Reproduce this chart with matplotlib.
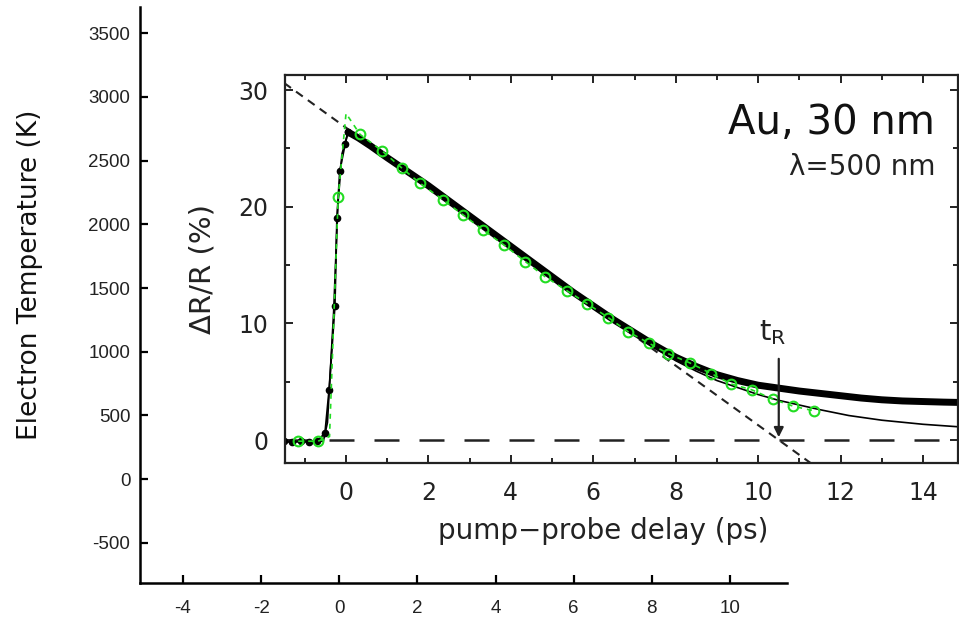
import matplotlib
matplotlib.use('Agg')
import matplotlib.pyplot as plt
from matplotlib.ticker import MultipleLocator

# outer axis: electron temperature scale
temp_ticks = [-500, 0, 500, 1000, 1500, 2000, 2500, 3000, 3500]
time_ticks = [-4, -2, 0, 2, 4, 6, 8, 10]

# measured dR/R (thick black band of points)
meas_t = [-1.5, -1.3, -1.1, -0.9, -0.7, -0.51, -0.41, -0.27, -0.22, -0.15, -0.02, 0.05,
          0.3, 0.6, 1.0, 1.5, 2.0, 2.5, 3.0, 3.5, 4.0, 4.5, 5.0, 5.5, 6.0, 6.5, 7.0,
          7.5, 8.0, 8.5, 9.0, 9.5, 10.0, 10.5, 11.0, 11.5, 12.0, 12.5, 13.0, 13.5,
          14.0, 14.5, 15.2]
meas_r = [-0.1, -0.2, -0.1, -0.2, -0.1, 0.6, 4.3, 11.5, 19.0, 23.1, 25.4, 26.4,
          25.9, 25.2, 24.2, 23.0, 21.8, 20.5, 19.2, 17.9, 16.6, 15.3, 14.0, 12.7,
          11.5, 10.3, 9.2, 8.1, 7.1, 6.3, 5.6, 5.1, 4.7, 4.45, 4.2, 4.0, 3.8, 3.6,
          3.45, 3.35, 3.3, 3.25, 3.2]
peak = 11  # index of the peak, decay part is drawn as a dense band

# thin solid fit
fit_t = [-1.5, -0.55, -0.45, -0.3, -0.2, -0.1, 0.05, 2.0, 4.0, 6.0, 7.0, 8.0, 8.5,
         9.0, 9.5, 10.0, 10.5, 11.0, 11.5, 12.2, 13.0, 14.0, 15.2]
fit_r = [-0.15, -0.1, 1.5, 11.0, 20.0, 24.5, 26.4, 21.8, 16.6, 11.5, 9.0, 6.8, 5.9,
         5.1, 4.5, 3.9, 3.4, 3.0, 2.6, 2.1, 1.7, 1.35, 1.05]

# green model points
green_t = [-1.16, -0.68, -0.4, -0.19, 0.0, 0.34, 0.87, 1.36, 1.8, 2.35, 2.84, 3.33,
           3.84, 4.35, 4.83, 5.36, 5.85, 6.36, 6.84, 7.35, 7.82, 8.35, 8.86, 9.35,
           9.85, 10.36, 10.85, 11.36]
green_r = [-0.1, -0.1, 0.3, 20.8, 28.0, 26.2, 24.8, 23.3, 22.0, 20.6, 19.3, 18.0,
           16.7, 15.3, 14.0, 12.8, 11.7, 10.5, 9.3, 8.3, 7.4, 6.6, 5.7, 4.8, 4.3,
           3.5, 2.9, 2.5]
green_marks = [0, 1, 3] + list(range(5, 28))

# linear extrapolation and baseline
extrap_t = [-1.5, 11.3]
extrap_r = [30.6, -2.04]
base_t = [-1.5, 15.2]
base_r = [0, 0]
t_R = 10.5

fig = plt.figure(figsize=(9.59, 6.22), dpi=100)

ax = fig.add_axes([0.146, 0.0627, 0.675, 0.926])
ax.set_xlim(-5.1, 11.47)
ax.set_ylim(-814, 3704)
ax.set_xticks(time_ticks)
ax.set_yticks(temp_ticks)
ax.set_xticklabels([str(v) for v in time_ticks])
ax.set_yticklabels([str(v) for v in temp_ticks])
for s in ['top', 'right']:
    ax.spines[s].set_visible(False)
for s in ['left', 'bottom']:
    ax.spines[s].set_linewidth(1.8)
ax.tick_params(direction='in', length=6, width=1.6, labelsize=13.5)
ax.tick_params(axis='y', pad=7)
ax.tick_params(axis='x', pad=12)
for lab in ax.get_xticklabels() + ax.get_yticklabels():
    lab.set_family('Liberation Sans')
    lab.set_color('#222222')
fig.text(0.031, 1 - 275 / 622, 'Electron Temperature (K)', rotation=90,
         ha='center', va='center', fontsize=19, family='DejaVu Sans', color='#111111')

# inset: scanned dR/R figure
ins = fig.add_axes([0.2972, 0.2556, 0.7018, 0.6238])
ins.set_xlim(-1.48, 14.85)
ins.set_ylim(-1.97, 31.29)
ins.xaxis.set_major_locator(MultipleLocator(2))
ins.xaxis.set_minor_locator(MultipleLocator(1))
ins.yaxis.set_major_locator(MultipleLocator(10))
ins.yaxis.set_minor_locator(MultipleLocator(5))
ins.tick_params(which='both', direction='in', top=True, right=True, width=1.4,
                labelsize=17, colors='#222222')
ins.tick_params(which='major', length=6)
ins.tick_params(which='minor', length=3.5)
ins.tick_params(axis='x', pad=13)
ins.tick_params(axis='y', pad=12)
for s in ins.spines.values():
    s.set_linewidth(1.6)
    s.set_color('#222222')
ins.set_xlabel('pump\u2212probe delay (ps)', fontsize=20, color='#222222')
ins.xaxis.set_label_coords(0.4725, -0.14)
ins.set_ylabel('\u0394R/R (%)', fontsize=21, color='#222222', labelpad=16)

ins.plot(base_t, base_r, color='#222222', lw=1.8, linestyle=(0, (10, 8)))
ins.plot(extrap_t, extrap_r, color='#222222', lw=1.5, linestyle=(0, (4, 3)))
ins.plot(fit_t, fit_r, color='black', lw=1.2)
ins.plot(meas_t[:peak + 1], meas_r[:peak + 1], color='black', lw=1.3, marker='o', ms=4.5)
ins.plot(meas_t[peak:], meas_r[peak:], color='black', lw=5, solid_capstyle='round')
ins.plot(green_t, green_r, color='#22dd22', lw=1.2, linestyle=(0, (3, 3)),
         marker='o', ms=7, mfc='none', mec='#22dd22', mew=1.5, markevery=green_marks)

ins.annotate('', xy=(t_R, 0), xytext=(t_R, 7.2),
             arrowprops=dict(arrowstyle='-|>', color='#222222', lw=1.6, mutation_scale=14))
ins.text(10.36, 9.2, r'$\mathregular{t_R}$', fontsize=21, ha='center', va='center', color='#222222')
ins.text(0.966, 0.876, 'Au, 30 nm', transform=ins.transAxes, fontsize=29,
         ha='right', va='center', color='#111111')
ins.text(0.966, 0.763, '\u03bb=500 nm', transform=ins.transAxes, fontsize=20,
         ha='right', va='center', color='#222222')

fig.savefig('out.png', dpi=100)
